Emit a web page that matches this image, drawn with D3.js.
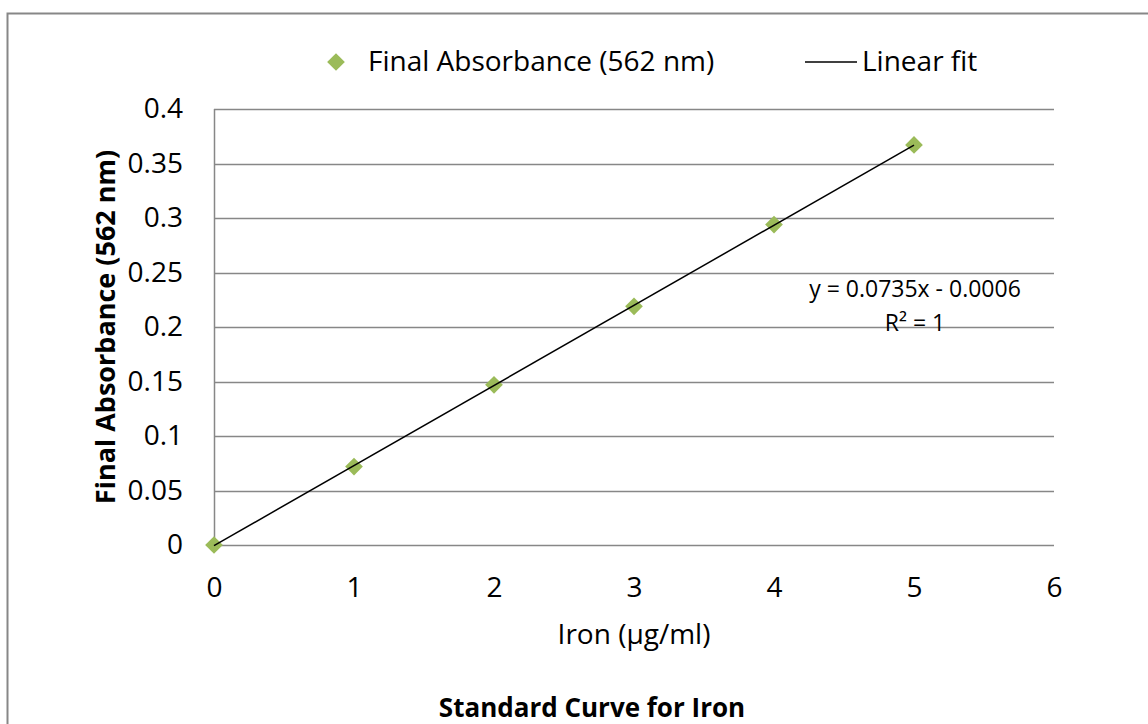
<!DOCTYPE html>
<html>
<head>
<meta charset="utf-8">
<script src="https://cdn.jsdelivr.net/npm/d3@7"></script>
<style>
  body { margin: 0; background: #fff; }
  svg text { font-family: "Open Sans", sans-serif; fill: #000; }
</style>
</head>
<body>
<div id="chart"></div>
<script>
// data
var ironConc = [0, 1, 2, 3, 4, 5];
var absorbance = [0, 0.072, 0.147, 0.219, 0.294, 0.367];
var fitSlope = 0.0735, fitIntercept = -0.0006;
var xTicks = [0, 1, 2, 3, 4, 5, 6];
var yTicks = [0, 0.05, 0.1, 0.15, 0.2, 0.25, 0.3, 0.35, 0.4];

var W = 1148, H = 724;
var FONT = "'Open Sans', sans-serif";
var margin = {top: 109, right: 94, bottom: 179, left: 214},
    width = W - margin.left - margin.right,
    height = H - margin.top - margin.bottom;

var svg = d3.select("#chart").append("svg")
    .attr("width", W).attr("height", H);

// chart area border (runs off the right and bottom of the picture)
svg.append("rect")
    .attr("x", 7.5).attr("y", 13.5)
    .attr("width", W + 20).attr("height", H + 20)
    .attr("fill", "none").attr("stroke", "#878787").attr("stroke-width", 2);

var g = svg.append("g")
    .attr("transform", "translate(" + margin.left + "," + margin.top + ")");

var x = d3.scaleLinear().domain([0, 6]).range([0, width]);
var y = d3.scaleLinear().domain([0, 0.4]).range([height, 0]);

// horizontal gridlines
g.append("g")
    .selectAll("line")
    .data(yTicks)
    .enter().append("line")
    .attr("x1", 0).attr("x2", width)
    .attr("y1", function(d) { return Math.round(y(d)) + 0.5; })
    .attr("y2", function(d) { return Math.round(y(d)) + 0.5; })
    .attr("stroke", "#878787").attr("stroke-width", 1.5);

// y axis line
g.append("line")
    .attr("x1", 0.5).attr("x2", 0.5)
    .attr("y1", 0).attr("y2", height)
    .attr("stroke", "#878787").attr("stroke-width", 1.5);

// Y tick labels
g.append("g")
    .call(d3.axisLeft(y).tickValues(yTicks).tickSize(0).tickPadding(31)
        .tickFormat(function(d) { return String(+d.toFixed(2)); }))
    .call(function(a) { a.select(".domain").remove(); })
    .selectAll("text")
    .style("font-size", "28px")
    .style("font-family", FONT);

// X tick labels
g.append("g")
    .attr("transform", "translate(0," + height + ")")
    .call(d3.axisBottom(x).tickValues(xTicks).tickSize(0).tickPadding(32)
        .tickFormat(d3.format("d")))
    .call(function(a) { a.select(".domain").remove(); })
    .selectAll("text")
    .style("font-size", "28px")
    .style("font-family", FONT);

// markers
var diamond = d3.symbol().type(d3.symbolDiamond2).size(200);
g.selectAll(".pt")
    .data(ironConc)
    .enter().append("path")
    .attr("class", "pt")
    .attr("d", diamond)
    .attr("transform", function(d, i) { return "translate(" + x(d) + "," + y(absorbance[i]) + ")"; })
    .attr("fill", "#9BBB59");

// linear fit, drawn over the markers
var x0 = d3.min(ironConc), x1 = d3.max(ironConc);
g.append("line")
    .attr("x1", x(x0)).attr("y1", y(fitSlope * x0 + fitIntercept))
    .attr("x2", x(x1)).attr("y2", y(fitSlope * x1 + fitIntercept))
    .attr("stroke", "#000").attr("stroke-width", 1.5);

// trendline equation
svg.append("text")
    .attr("x", 915).attr("y", 297)
    .attr("text-anchor", "middle")
    .style("font-size", "23px")
    .text("y = 0.0735x - 0.0006");
svg.append("text")
    .attr("x", 915).attr("y", 331)
    .attr("text-anchor", "middle")
    .style("font-size", "23px")
    .text("R² = 1");

// legend
svg.append("path")
    .attr("d", diamond)
    .attr("transform", "translate(336,62)")
    .attr("fill", "#9BBB59");
svg.append("text")
    .attr("x", 368).attr("y", 71)
    .style("font-size", "28px")
    .text("Final Absorbance (562 nm)");
svg.append("line")
    .attr("x1", 805).attr("x2", 857)
    .attr("y1", 62).attr("y2", 62)
    .attr("stroke", "#000").attr("stroke-width", 1.5);
svg.append("text")
    .attr("x", 862).attr("y", 71)
    .style("font-size", "28px")
    .text("Linear fit");

// axis titles
svg.append("text")
    .attr("x", 634).attr("y", 644)
    .attr("text-anchor", "middle")
    .style("font-size", "28px")
    .text("Iron (µg/ml)");

svg.append("text")
    .attr("transform", "translate(115,327) rotate(-90)")
    .attr("text-anchor", "middle")
    .style("font-size", "27px")
    .style("font-weight", "bold")
    .text("Final Absorbance (562 nm)");

// chart title, centred on the full chart area
svg.append("text")
    .attr("x", 592).attr("y", 717)
    .attr("text-anchor", "middle")
    .style("font-size", "26px")
    .style("font-weight", "bold")
    .text("Standard Curve for Iron");
</script>
</body>
</html>
